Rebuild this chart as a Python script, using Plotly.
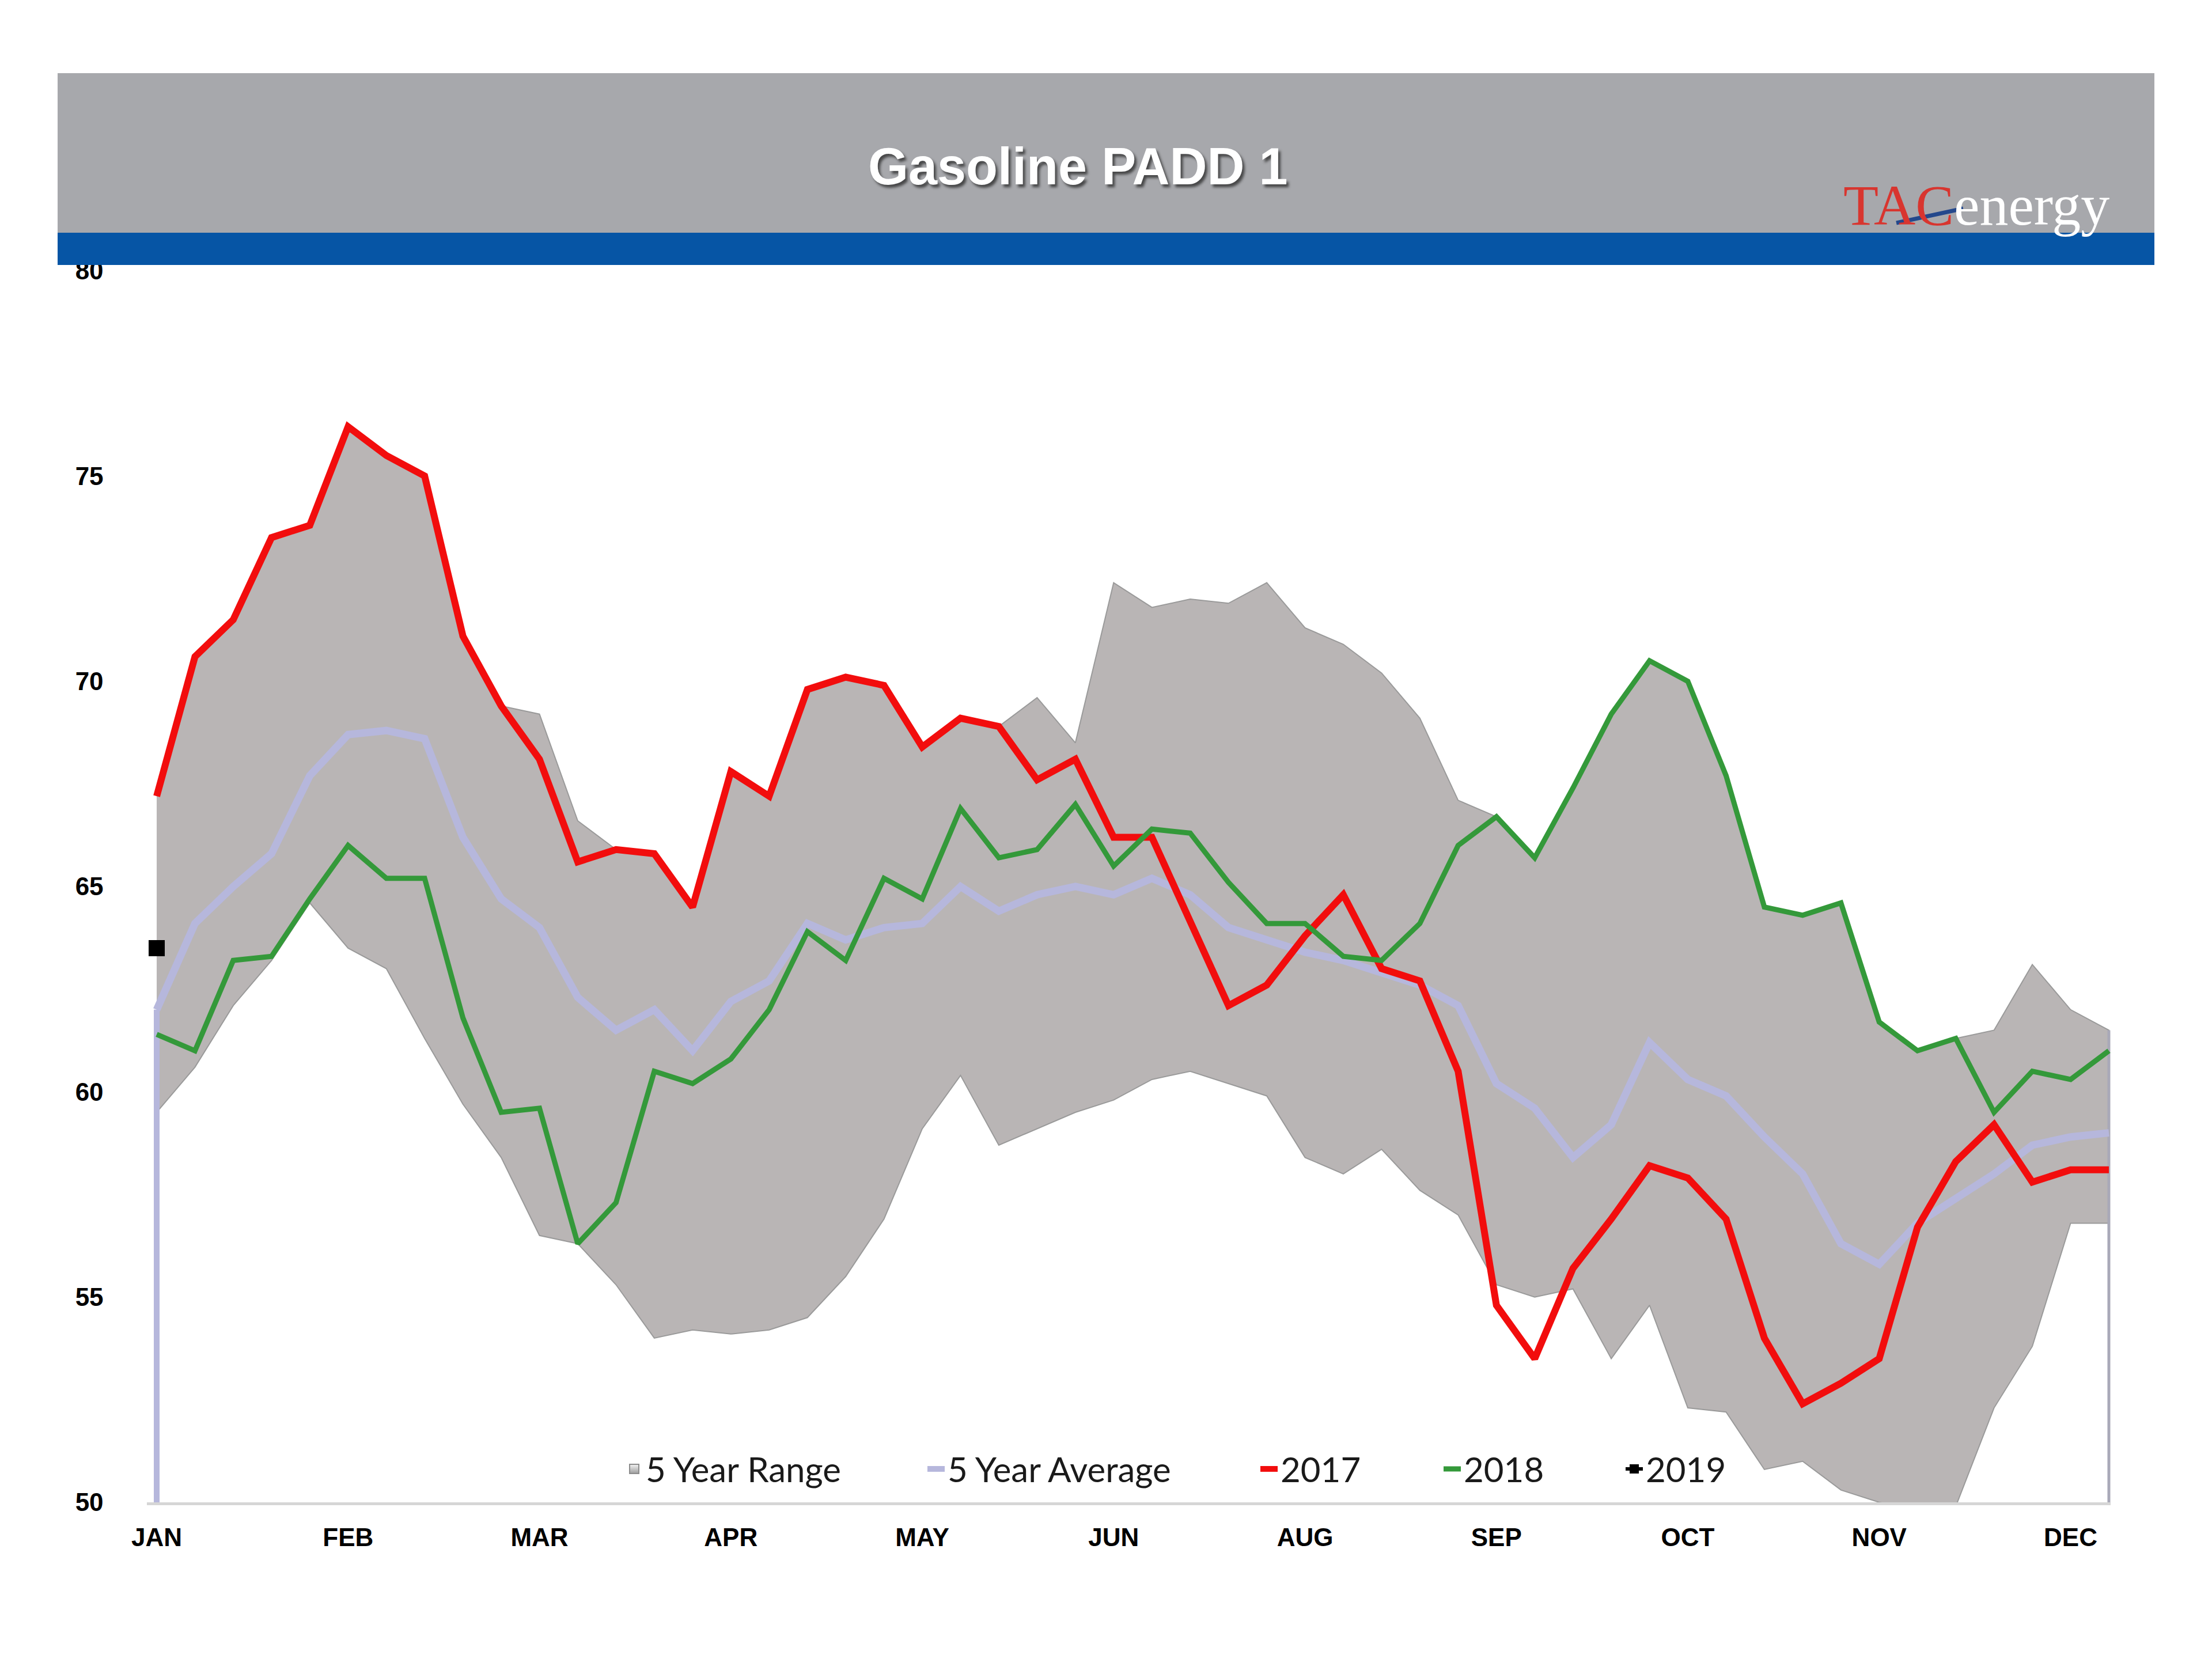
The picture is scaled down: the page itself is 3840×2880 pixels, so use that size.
import plotly.graph_objects as go

# ---------------- data ----------------
weeks = list(range(52))
month_ticks = [0, 5, 10, 15, 20, 25, 30, 35, 40, 45, 50]
month_labels = ["JAN", "FEB", "MAR", "APR", "MAY", "JUN", "AUG", "SEP", "OCT", "NOV", "DEC"]
y_ticks = [50, 55, 60, 65, 70, 75, 80]

range_upper = [67.2, 70.6, 71.5, 73.5, 73.8, 76.2, 75.5, 75.0, 71.1, 69.4,
               69.2, 66.6, 65.9, 65.8, 64.5, 67.8, 67.2, 69.8, 70.1, 69.9,
               68.4, 69.1, 68.9, 69.6, 68.5, 72.4, 71.8, 72.0, 71.9, 72.4,
               71.3, 70.9, 70.2, 69.1, 67.1, 66.7, 65.7, 67.4, 69.2, 70.5,
               70.0, 67.7, 64.5, 64.3, 64.6, 61.7, 61.0, 61.3, 61.5, 63.1,
               62.0, 61.5]

range_lower = [59.5, 60.6, 62.1, 63.2, 64.6, 63.5, 63.0, 61.3, 59.7, 58.4,
               56.5, 56.3, 55.3, 54.0, 54.2, 54.1, 54.2, 54.5, 55.5, 56.9,
               59.1, 60.4, 58.7, 59.1, 59.5, 59.8, 60.3, 60.5, 60.2, 59.9,
               58.4, 58.0, 58.6, 57.6, 57.0, 55.3, 55.0, 55.2, 53.5, 54.8,
               52.3, 52.2, 50.8, 51.0, 50.3, 50.0, 49.8, 49.9, 52.3, 53.8,
               56.8, 56.8]

avg_5yr = [62.0, 64.1, 65.0, 65.8, 67.7, 68.7, 68.8, 68.6, 66.2, 64.7,
           64.0, 62.3, 61.5, 62.0, 61.0, 62.2, 62.7, 64.1, 63.7, 64.0,
           64.1, 65.0, 64.4, 64.8, 65.0, 64.8, 65.2, 64.8, 64.0, 63.7,
           63.4, 63.2, 62.9, 62.6, 62.1, 60.2, 59.6, 58.4, 59.2, 61.2,
           60.3, 59.9, 58.9, 58.0, 56.3, 55.8, 56.8, 57.4, 58.0, 58.7,
           58.9, 59.0]

y2017 = [67.2, 70.6, 71.5, 73.5, 73.8, 76.2, 75.5, 75.0, 71.1, 69.4,
         68.1, 65.6, 65.9, 65.8, 64.5, 67.8, 67.2, 69.8, 70.1, 69.9,
         68.4, 69.1, 68.9, 67.6, 68.1, 66.2, 66.2, 64.1, 62.1, 62.6,
         63.8, 64.8, 63.0, 62.7, 60.5, 54.8, 53.5, 55.7, 56.9, 58.2,
         57.9, 56.9, 54.0, 52.4, 52.9, 53.5, 56.7, 58.3, 59.2, 57.8,
         58.1, 58.1]

y2018 = [61.4, 61.0, 63.2, 63.3, 64.7, 66.0, 65.2, 65.2, 61.8, 59.5,
         59.6, 56.3, 57.3, 60.5, 60.2, 60.8, 62.0, 63.9, 63.2, 65.2,
         64.7, 66.9, 65.7, 65.9, 67.0, 65.5, 66.4, 66.3, 65.1, 64.1,
         64.1, 63.3, 63.2, 64.1, 66.0, 66.7, 65.7, 67.4, 69.2, 70.5,
         70.0, 67.7, 64.5, 64.3, 64.6, 61.7, 61.0, 61.3, 59.5, 60.5,
         60.3, 61.0]

y2019 = [63.5]

# ---------------- figure ----------------
W, H = 3840, 2880
OFF = 8  # page body margin
def px(x):
    return (x - OFF) / W
def py(y):
    return 1 - (y - OFF) / H

RANGE_FILL = "#b9b5b5"
AVG_COLOR = "#b6b7dc"
RED = "#f20d0d"
GREEN = "#34993a"

fig = go.Figure()

# 5 year range as a closed polygon (upper forward, lower backward)
poly_x = weeks + weeks[::-1]
poly_y = range_upper + range_lower[::-1]
fig.add_trace(go.Scatter(x=poly_x, y=poly_y, mode="lines", name="5 Year Range",
                         fill="toself", fillcolor=RANGE_FILL, showlegend=False,
                         line=dict(width=2, color="#9a9a9a"), hoverinfo="skip"))
# legend entry for the range (box symbol)
fig.add_trace(go.Scatter(x=[None], y=[None], mode="markers", name="5 Year Range",
                         legend="legend",
                         marker=dict(symbol="square", size=40, color="#f4f4f4",
                                     gradient=dict(type="vertical", color="#9c9c9c"),
                                     line=dict(color="#8c8c8c", width=2))))

# edge lines at start / end of the chart
fig.add_trace(go.Scatter(x=[weeks[0], weeks[0]], y=[y_ticks[0], avg_5yr[0]], mode="lines",
                         line=dict(width=10, color=AVG_COLOR), showlegend=False, hoverinfo="skip"))
fig.add_trace(go.Scatter(x=[weeks[-1], weeks[-1]], y=[y_ticks[0], range_upper[-1]], mode="lines",
                         line=dict(width=5, color="#a9a9b8"), showlegend=False, hoverinfo="skip"))

fig.add_trace(go.Scatter(x=weeks, y=avg_5yr, mode="lines", name="5 Year Average",
                         legend="legend2", line=dict(width=13, color=AVG_COLOR)))
fig.add_trace(go.Scatter(x=weeks, y=y2017, mode="lines", name="2017",
                         legend="legend3", line=dict(width=12, color=RED)))
fig.add_trace(go.Scatter(x=weeks, y=y2018, mode="lines", name="2018",
                         legend="legend4", line=dict(width=9, color=GREEN)))
fig.add_trace(go.Scatter(x=weeks[:len(y2019)], y=y2019, mode="lines+markers", name="2019",
                         legend="legend5", line=dict(width=6, color="black"),
                         marker=dict(symbol="square", size=28, color="black")))

# banner shapes
shapes = [
    dict(type="rect", xref="paper", yref="paper", x0=px(100), x1=px(3740), y0=py(404), y1=py(127),
         fillcolor="#a7a8ac", line=dict(width=0), layer="above"),
    dict(type="rect", xref="paper", yref="paper", x0=px(100), x1=px(3740), y0=py(460), y1=py(404),
         fillcolor="#0655a5", line=dict(width=0), layer="above"),
    dict(type="line", xref="paper", yref="paper", x0=px(3292), y0=py(387), x1=px(3408), y1=py(362),
         line=dict(color="#24488c", width=7), layer="above"),
]

annotations = [
    dict(text="Gasoline PADD 1", xref="paper", yref="paper", x=px(1871), y=py(289),
         xanchor="center", yanchor="middle", showarrow=False,
         font=dict(family="Liberation Sans, Arial, sans-serif", size=90, color="white",
                   weight="bold", shadow="4px 5px 4px rgba(40,40,40,0.75)")),
    dict(text="<span style='color:#d8352f'>TAC</span><span style='color:#ffffff'>energy</span>",
         xref="paper", yref="paper", x=px(3198), y=py(414), xanchor="left", yanchor="bottom",
         showarrow=False,
         font=dict(family="Liberation Serif, Times New Roman, serif", size=100)),
]

# one legend per entry so the spacing follows the original
legend_font = dict(family="Lato, Calibri, sans-serif", size=60, color="#1a1a1a")
def make_legend(text_left):
    return dict(orientation="h", x=px(text_left - 48), xanchor="left", y=py(2550), yanchor="middle",
                bgcolor="rgba(0,0,0,0)", font=legend_font, itemwidth=30)

fig.update_layout(
    width=W, height=H, autosize=False,
    margin=dict(l=0, r=0, t=0, b=0, pad=0, autoexpand=False),
    paper_bgcolor="white", plot_bgcolor="white",
    shapes=shapes, annotations=annotations,
    showlegend=True,
    legend=make_legend(1129),
    legend2=make_legend(1653),
    legend3=make_legend(2231),
    legend4=make_legend(2549),
    legend5=make_legend(2865),
    xaxis=dict(range=[-0.25, 51.05], domain=[px(255.4), px(3664.3)], automargin=False,
               tickvals=month_ticks, ticktext=month_labels,
               showgrid=False, zeroline=False,
               showline=True, linecolor="#d6d6d6", linewidth=5,
               ticks="outside", ticklen=18, tickcolor="rgba(0,0,0,0)",
               tickfont=dict(family="Liberation Sans, Arial, sans-serif", size=44,
                             color="black", weight="bold")),
    yaxis=dict(range=[50, 80], domain=[py(2608), py(470)], automargin=False,
               tickvals=y_ticks, showgrid=False, zeroline=False, showline=False,
               ticks="outside", ticklen=66, tickcolor="rgba(0,0,0,0)",
               tickfont=dict(family="Liberation Sans, Arial, sans-serif", size=44,
                             color="black", weight="bold")),
)

fig.write_html("out.html")
